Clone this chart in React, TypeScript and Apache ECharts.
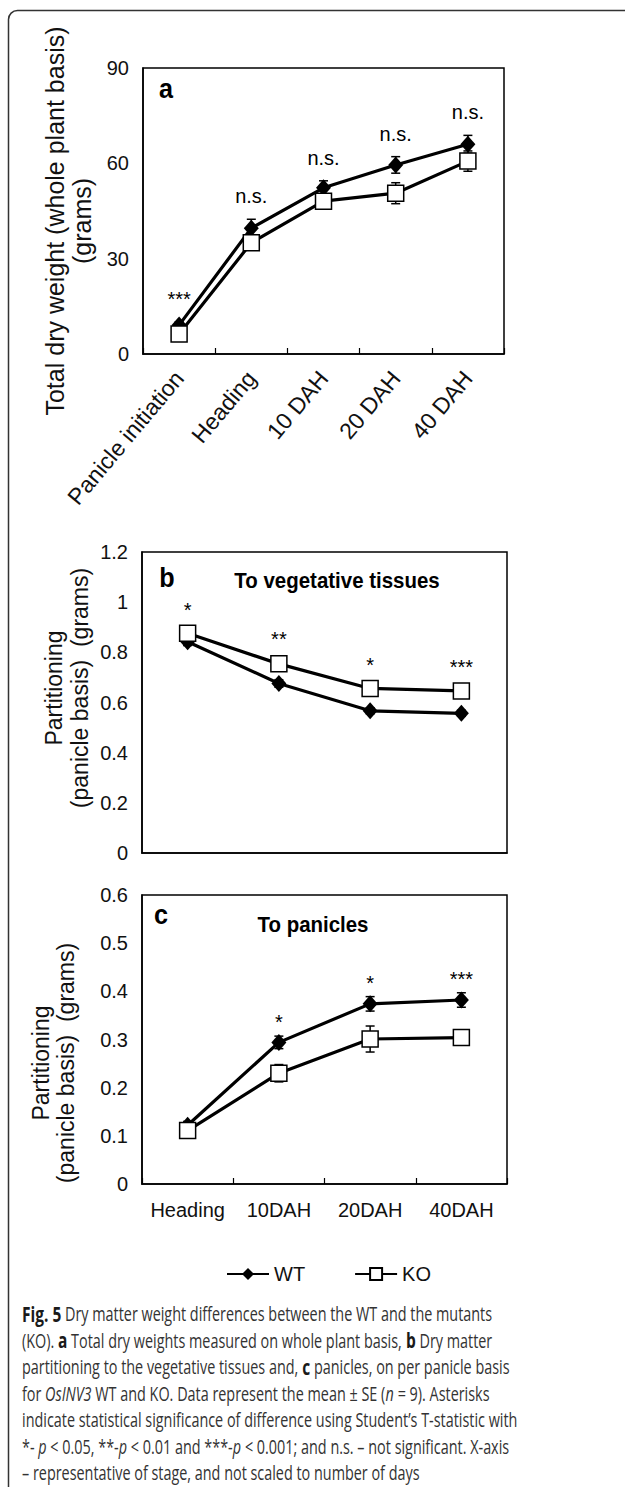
import React, { useEffect, useRef } from "react";
import * as echarts from "echarts";

// ---------- data ----------
const stagesA = ["Panicle initiation", "Heading", "10 DAH", "20 DAH", "40 DAH"];
const wtA = [9.1, 39.6, 52.3, 59.5, 66.0];
const wtAErr = [1.0, 2.8, 2.2, 2.6, 2.8];
const koA = [6.3, 35.0, 48.1, 50.6, 60.7];
const koAErr = [0.5, 1.5, 1.5, 3.3, 3.2];
const sigA = ["***", "n.s.", "n.s.", "n.s.", "n.s."];
const yTicksA = [0, 30, 60, 90];

const stagesBC = ["Heading", "10DAH", "20DAH", "40DAH"];
const wtB = [0.842, 0.676, 0.567, 0.557];
const wtBErr = [0.015, 0.015, 0.012, 0.012];
const koB = [0.876, 0.754, 0.656, 0.646];
const koBErr = [0.015, 0.02, 0.015, 0.015];
const sigB = ["*", "**", "*", "***"];
const yTicksB = [0, 0.2, 0.4, 0.6, 0.8, 1, 1.2];

const wtC = [0.122, 0.294, 0.374, 0.382];
const wtCErr = [0.008, 0.013, 0.015, 0.015];
const koC = [0.111, 0.23, 0.301, 0.304];
const koCErr = [0.006, 0.018, 0.027, 0.006];
const sigC = ["", "*", "*", "***"];
const yTicksC = [0, 0.1, 0.2, 0.3, 0.4, 0.5, 0.6];

const seriesNames = ["WT", "KO"];

const captionLines = [
  "{b|Fig. 5} Dry matter weight differences between the WT and the mutants",
  "(KO). {b|a} Total dry weights measured on whole plant basis, {b|b} Dry matter",
  "partitioning to the vegetative tissues and, {b|c} panicles, on per panicle basis",
  "for {i|OsINV3} WT and KO. Data represent the mean ± SE ({i|n} = 9). Asterisks",
  "indicate statistical significance of difference using Student’s T-statistic with",
  "*- {i|p} < 0.05, **-{i|p} < 0.01 and ***-{i|p} < 0.001; and n.s. – not significant. X-axis",
  "– representative of stage, and not scaled to number of days",
];

// ---------- style ----------
const FONT = "Liberation Sans, Arial, Helvetica, sans-serif";
const CAP_FONT = "Open Sans, Noto Sans, sans-serif";
const CAP_SIZE = 20;

const panels = [
  {
    grid: { left: 143, top: 68, width: 361, height: 286 },
    cats: stagesA, wt: wtA, wtErr: wtAErr, ko: koA, koErr: koAErr, sig: sigA, ticks: yTicksA,
    rotate: 50, xFont: 23, showX: true, sigOffset: 13,
  },
  {
    grid: { left: 142, top: 552, width: 365, height: 301 },
    cats: stagesBC, wt: wtB, wtErr: wtBErr, ko: koB, koErr: koBErr, sig: sigB, ticks: yTicksB,
    rotate: 0, xFont: 20, showX: false, sigOffset: 10,
  },
  {
    grid: { left: 142, top: 895, width: 365, height: 289 },
    cats: stagesBC, wt: wtC, wtErr: wtCErr, ko: koC, koErr: koCErr, sig: sigC, ticks: yTicksC,
    rotate: 0, xFont: 20, showX: true, sigOffset: 4,
  },
];

function errSeries(p: number, vals: number[], errs: number[]) {
  return {
    type: "custom",
    name: "err",
    xAxisIndex: p,
    yAxisIndex: p,
    z: 2,
    silent: true,
    data: vals.map((v, i) => [i, v, errs[i]]),
    renderItem: (params: any, api: any) => {
      const x = api.value(0);
      const y = api.value(1);
      const e = api.value(2);
      const top = api.coord([x, y + e]);
      const bot = api.coord([x, y - e]);
      const hw = 4.5;
      const st = { stroke: "#000", lineWidth: 1.5 };
      return {
        type: "group",
        children: [
          { type: "line", shape: { x1: top[0], y1: top[1], x2: bot[0], y2: bot[1] }, style: st },
          { type: "line", shape: { x1: top[0] - hw, y1: top[1], x2: top[0] + hw, y2: top[1] }, style: st },
          { type: "line", shape: { x1: bot[0] - hw, y1: bot[1], x2: bot[0] + hw, y2: bot[1] }, style: st },
        ],
      };
    },
  };
}

function sigSeries(p: number, pn: any) {
  const tops = pn.wt.map((v: number, i: number) =>
    Math.max(v + pn.wtErr[i], pn.ko[i] + pn.koErr[i])
  );
  return {
    type: "custom",
    name: "sig",
    xAxisIndex: p,
    yAxisIndex: p,
    z: 6,
    silent: true,
    data: tops.map((t: number, i: number) => [i, t]),
    renderItem: (params: any, api: any) => {
      const pt = api.coord([api.value(0), api.value(1)]);
      return {
        type: "text",
        x: pt[0],
        y: pt[1] - pn.sigOffset,
        style: {
          text: pn.sig[params.dataIndex],
          fontSize: 20,
          fontFamily: FONT,
          fill: "#000",
          align: "center",
          verticalAlign: "bottom",
        },
      };
    },
  };
}

function buildOption() {
  const grid = panels.map((pn) => ({
    ...pn.grid,
    show: true,
    borderColor: "#000",
    borderWidth: 1.5,
    containLabel: false,
  }));

  const xAxis = panels.map((pn, p) => ({
    type: "category",
    gridIndex: p,
    data: pn.cats,
    boundaryGap: true,
    axisLine: { show: true, lineStyle: { color: "#000", width: 1.5 } },
    axisTick: { show: pn.showX, inside: true, length: 6, interval: 0, lineStyle: { color: "#000", width: 1.2 } },
    axisLabel: {
      show: pn.showX,
      interval: 0,
      rotate: pn.rotate,
      fontSize: pn.xFont,
      fontFamily: FONT,
      color: "#111",
      margin: pn.rotate ? 20 : 16,
    },
    splitLine: { show: false },
  }));

  const yAxis = panels.map((pn, p) => ({
    type: "value",
    gridIndex: p,
    min: pn.ticks[0],
    max: pn.ticks[pn.ticks.length - 1],
    interval: pn.ticks[1] - pn.ticks[0],
    axisLine: { show: true, lineStyle: { color: "#000", width: 1.5 } },
    axisTick: { show: false },
    splitLine: { show: false },
    axisLabel: { fontSize: 20, fontFamily: FONT, color: "#111", margin: 14 },
  }));

  const series: any[] = [];
  panels.forEach((pn, p) => {
    series.push(errSeries(p, pn.wt, pn.wtErr));
    series.push(errSeries(p, pn.ko, pn.koErr));
    series.push({
      type: "line",
      name: seriesNames[0],
      xAxisIndex: p,
      yAxisIndex: p,
      data: pn.wt,
      z: 3,
      symbol: "diamond",
      symbolSize: [15, 17],
      lineStyle: { color: "#000", width: 3.2 },
      itemStyle: { color: "#000" },
      emphasis: { disabled: true },
    });
    series.push({
      type: "line",
      name: seriesNames[1],
      xAxisIndex: p,
      yAxisIndex: p,
      data: pn.ko,
      z: 4,
      symbol: "rect",
      symbolSize: 16,
      lineStyle: { color: "#000", width: 3.2 },
      itemStyle: { color: "#fff", borderColor: "#000", borderWidth: 1.5 },
      emphasis: { disabled: true },
    });
    series.push(sigSeries(p, pn));
  });

  const capRich = {
    b: { fontWeight: "bold", fontSize: CAP_SIZE + 1.5, fontFamily: CAP_FONT, fill: "#1a1a1a" },
    i: { fontStyle: "italic", fontSize: CAP_SIZE, fontFamily: CAP_FONT, fill: "#333" },
  };

  const graphic: any[] = [
    {
      type: "rect",
      shape: { x: 8.5, y: 10.5, width: 900, height: 1700, r: 9 },
      style: { fill: "none", stroke: "#333", lineWidth: 1.5 },
      silent: true,
    },
    // panel letters
    { type: "text", x: 166, y: 89, scaleX: 0.9, style: { text: "a", fontSize: 28, fontWeight: "bold", fontFamily: FONT, fill: "#000", align: "center", verticalAlign: "middle" } },
    { type: "text", x: 167, y: 578, scaleX: 0.9, style: { text: "b", fontSize: 28, fontWeight: "bold", fontFamily: FONT, fill: "#000", align: "center", verticalAlign: "middle" } },
    { type: "text", x: 161, y: 915, scaleX: 0.9, style: { text: "c", fontSize: 28, fontWeight: "bold", fontFamily: FONT, fill: "#000", align: "center", verticalAlign: "middle" } },
    // titles
    { type: "text", x: 337, y: 581, scaleX: 0.93, style: { text: "To vegetative tissues", fontSize: 22, fontWeight: "bold", fontFamily: FONT, fill: "#000", align: "center", verticalAlign: "middle" } },
    { type: "text", x: 313, y: 925, scaleX: 0.93, style: { text: "To panicles", fontSize: 22, fontWeight: "bold", fontFamily: FONT, fill: "#000", align: "center", verticalAlign: "middle" } },
    // y-axis names
    { type: "text", x: 68.5, y: 221, rotation: Math.PI / 2, style: { text: "Total dry weight (whole plant basis)\n(grams)", fontSize: 25, lineHeight: 27, fontFamily: FONT, fill: "#111", align: "center", verticalAlign: "middle" } },
    { type: "text", x: 66.5, y: 688, rotation: Math.PI / 2, style: { text: "Partitioning\n(panicle basis)  (grams)", fontSize: 23, lineHeight: 26, fontFamily: FONT, fill: "#111", align: "center", verticalAlign: "middle" } },
    { type: "text", x: 53, y: 1063, rotation: Math.PI / 2, style: { text: "Partitioning\n(panicle basis)  (grams)", fontSize: 23, lineHeight: 25, fontFamily: FONT, fill: "#111", align: "center", verticalAlign: "middle" } },
  ];

  captionLines.forEach((line, i) => {
    graphic.push({
      type: "text",
      x: 22,
      y: 1313 + i * 26.5,
      scaleX: 0.72,
      silent: true,
      style: {
        text: line,
        fontSize: CAP_SIZE,
        fontFamily: CAP_FONT,
        fill: "#333",
        align: "left",
        verticalAlign: "middle",
        rich: capRich,
      },
    });
  });

  return {
    animation: false,
    backgroundColor: "#fff",
    grid,
    xAxis,
    yAxis,
    series,
    legend: {
      data: seriesNames,
      left: 226,
      top: 1264,
      itemWidth: 42,
      itemHeight: 15,
      itemGap: 49,
      padding: 0,
      selectedMode: false,
      textStyle: { fontSize: 20, fontFamily: FONT, color: "#111" },
    },
    graphic,
  };
}

export default function App() {
  const ref = useRef<HTMLDivElement>(null);
  useEffect(() => {
    if (!ref.current) return;
    const chart = echarts.init(ref.current, undefined, { renderer: "svg", width: 625, height: 1487 });
    chart.setOption(buildOption() as any);
    return () => chart.dispose();
  }, []);
  return (
    <div
      ref={ref}
      style={{ position: "absolute", left: 0, top: 0, width: 625, height: 1487 }}
    />
  );
}
